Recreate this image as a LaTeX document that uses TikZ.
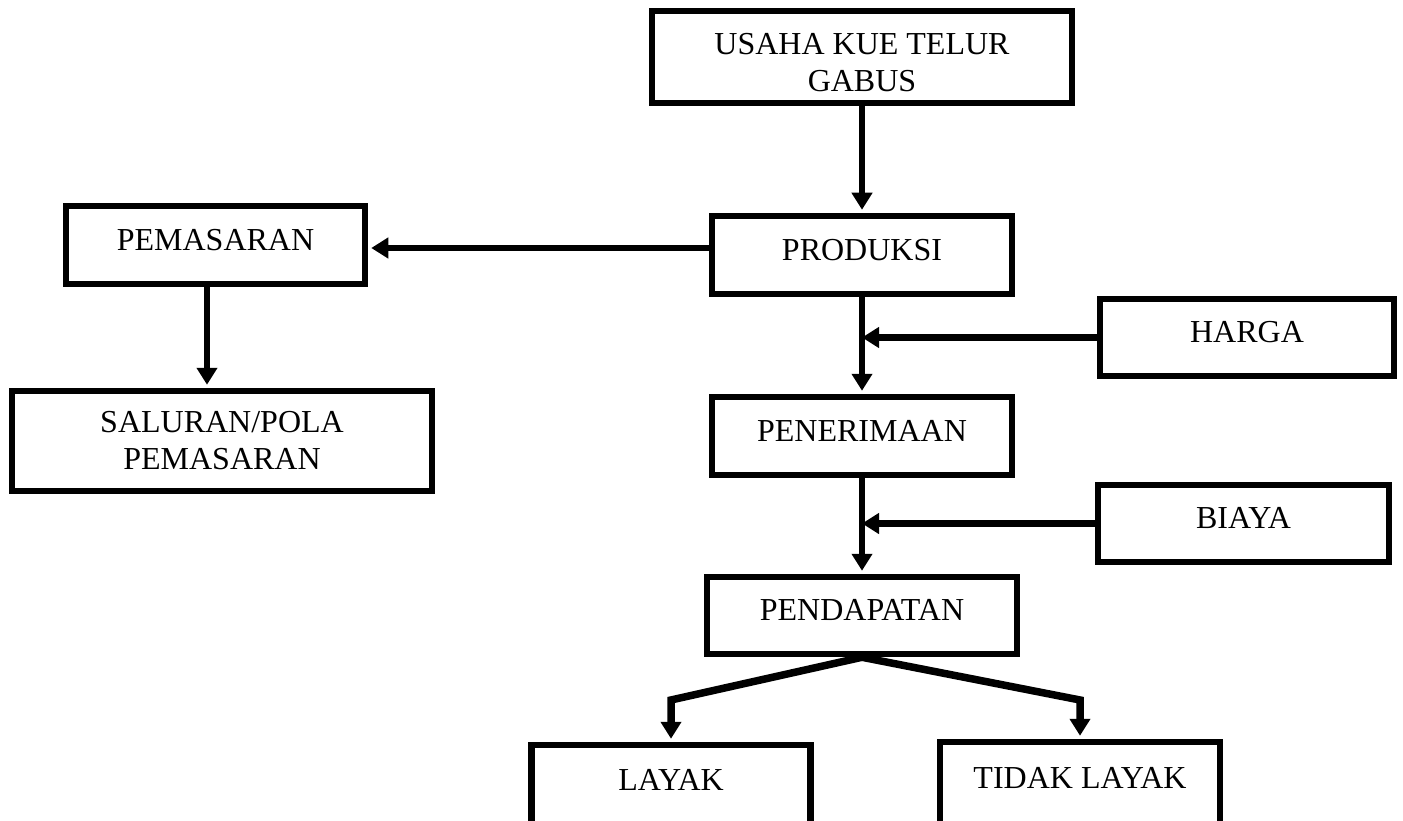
\documentclass[tikz,border=0pt]{standalone}
\usepackage{fontspec}
\setmainfont{Liberation Serif}
\usetikzlibrary{arrows.meta,calc}
\begin{document}
\begin{tikzpicture}[x=1pt,y=-1pt,
  box/.style={draw, line width=6.5pt, inner sep=0pt, align=center,
    font=\fontsize{32}{37}\selectfont},
  onebox/.style={box, text height=21.2pt, text depth=11pt},
  arr/.style={line width=6.5pt, -{Triangle[width=20pt,length=17pt]}, shorten >=3pt},
  feed/.style={line width=6.5pt, -{Triangle[width=20pt,length=17pt]}},
  split/.style={line width=7.5pt, line join=miter, -{Triangle[width=20pt,length=17pt]}, shorten >=3pt}]
\useasboundingbox (0,0) rectangle (1403,821);
\clip (0,0) rectangle (1403,821);
\fill[white] (0,0) rectangle (1403,821);

\node[box, minimum width=420pt, minimum height=92pt] (usaha) at (862,57) {\rule{0pt}{33pt}USAHA KUE TELUR\\GABUS};
\node[onebox, minimum width=300pt, minimum height=78pt] (produksi) at (862,255) {PRODUKSI};
\node[onebox, minimum width=299pt, minimum height=78pt] (pemasaran) at (215.5,245) {PEMASARAN};
\node[box, minimum width=420pt, minimum height=100pt] (saluran) at (222,441) {SALURAN/POLA\\PEMASARAN};
\node[onebox, minimum width=294pt, minimum height=77pt] (harga) at (1247,337.5) {HARGA};
\node[onebox, minimum width=300pt, minimum height=78pt] (penerimaan) at (862,436) {PENERIMAAN};
\node[onebox, minimum width=291pt, minimum height=77pt] (biaya) at (1243.5,523.5) {BIAYA};
\node[onebox, minimum width=310pt, minimum height=77pt] (pendapatan) at (862,615.5) {PENDAPATAN};
\node[onebox, minimum width=279pt, minimum height=80pt] (layak) at (671,785) {LAYAK};
\node[onebox, minimum width=280pt, minimum height=82pt] (tidak) at (1080,783) {TIDAK LAYAK};

\coordinate (bl) at (layak.north |- 0,700);
\coordinate (br) at (tidak.north |- 0,700);

\draw[arr] (usaha.south) -- (produksi.north);
\draw[arr] ([yshift=7pt]produksi.west) -- ([yshift=-3pt]pemasaran.east);
\draw[arr] ([xshift=-8.5pt]pemasaran.south) -- ([xshift=-8.5pt]pemasaran.south |- saluran.north);
\draw[arr] (produksi.south) -- (penerimaan.north);
\draw[feed] (harga.west) -- (produksi.south |- harga.west);
\draw[arr] (penerimaan.south) -- (pendapatan.north);
\draw[feed] (biaya.west) -- (penerimaan.south |- biaya.west);
\draw[split] (pendapatan.south) -- (bl) -- (layak.north);
\draw[split] (pendapatan.south) -- (br) -- (tidak.north);
\end{tikzpicture}
\end{document}
